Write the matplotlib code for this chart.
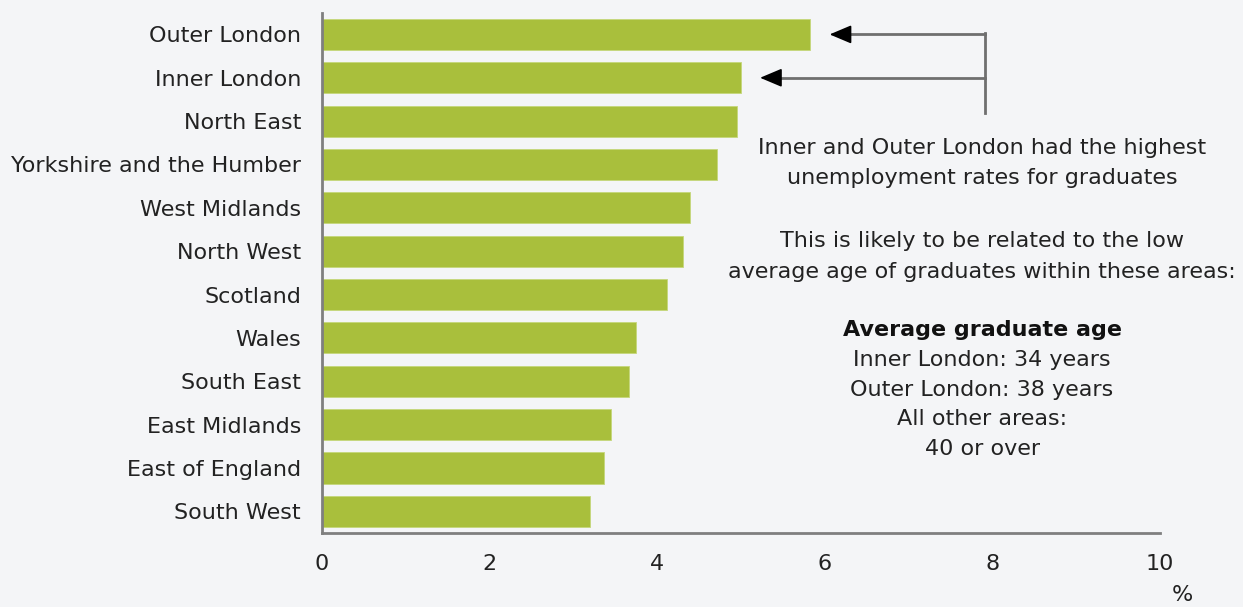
import numpy as np
import matplotlib.pyplot as plt

regions = ["Outer London", "Inner London", "North East", "Yorkshire and the Humber",
           "West Midlands", "North West", "Scotland", "Wales", "South East",
           "East Midlands", "East of England", "South West"]
rates = [5.82, 5.0, 4.96, 4.71, 4.39, 4.31, 4.12, 3.75, 3.66, 3.45, 3.37, 3.20]
ticks = [0, 2, 4, 6, 8, 10]

bg = '#f4f5f7'
fig = plt.figure(figsize=(12.43, 6.07), dpi=100, facecolor=bg)
ax = fig.add_axes([0.259, 0.122, 0.674, 0.857], facecolor=bg)

y = np.arange(len(regions))
ax.barh(y, rates, height=0.72, color='#a9bf3c', edgecolor='#c5d77a', linewidth=0.6)
ax.set_ylim(11.5, -0.5)
ax.set_xlim(0, 10)
ax.set_yticks(y, regions)
ax.set_xticks(ticks, [str(t) for t in ticks])
ax.tick_params(length=0, labelsize=16, colors='#222222')
ax.tick_params(axis='y', pad=15)
ax.tick_params(axis='x', pad=15)
for s in ['top', 'right']:
    ax.spines[s].set_visible(False)
for s in ['left', 'bottom']:
    ax.spines[s].set_color('#7f7f7f')
    ax.spines[s].set_linewidth(2)

ax.text(10.27, 12.93, '%', fontsize=16, color='#222222', ha='center', va='center',
        clip_on=False)

# bracket arrows pointing at London bars
bx = 7.91
ax.plot([bx, bx], [-0.03, 1.82], color='#6f6f6f', lw=2, clip_on=False)
tips = [6.06, 5.23]
for i in (0, 1):
    ax.plot([tips[i] + 0.15, bx], [i, i], color='#6f6f6f', lw=2)
    ax.annotate('', xy=(tips[i], i), xytext=(tips[i] + 0.2, i),
                arrowprops=dict(arrowstyle='-|>,head_length=0.9,head_width=0.38',
                                color='black', lw=1.2, mutation_scale=15,
                                shrinkA=0, shrinkB=0))

tx = 7.88
fs = 16
ax.text(tx, 2.97, 'Inner and Outer London had the highest\nunemployment rates for graduates',
        ha='center', va='center', fontsize=fs, color='#222222', linespacing=1.65)
ax.text(tx, 5.12, 'This is likely to be related to the low\naverage age of graduates within these areas:',
        ha='center', va='center', fontsize=fs, color='#222222', linespacing=1.65)
ax.text(tx, 6.82, 'Average graduate age', ha='center', va='center', fontsize=fs,
        fontweight='bold', color='#111111')
ax.text(tx, 8.54, 'Inner London: 34 years\nOuter London: 38 years\nAll other areas:\n40 or over',
        ha='center', va='center', fontsize=fs, color='#222222', linespacing=1.6)

fig.savefig('out.png', dpi=100, facecolor=bg)
